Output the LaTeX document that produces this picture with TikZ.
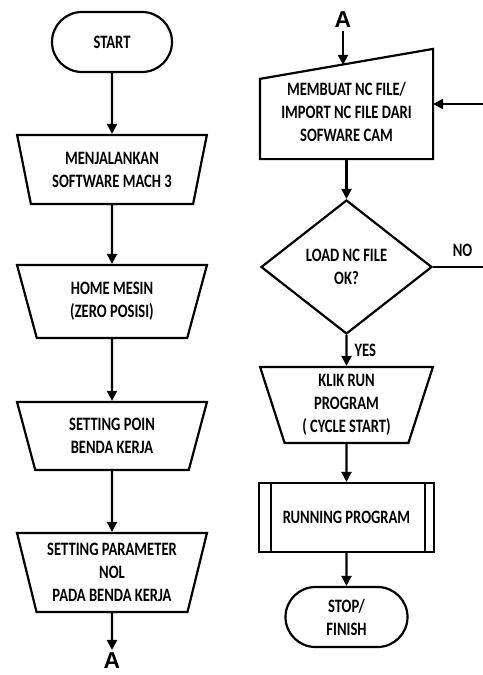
\documentclass[tikz,border=0pt]{standalone}
\usepackage{fontspec}
\setmainfont{Carlito}[FakeStretch=0.77]
\newfontfamily\connfont{Liberation Sans}
\usetikzlibrary{shapes.geometric,shapes.misc,arrows.meta}

\begin{document}
\begin{tikzpicture}[x=1bp,y=-1bp,
  base/.style={draw, line width=2.2bp, align=center, inner sep=0pt,
    font=\fontsize{19}{23}\selectfont\bfseries},
  terminal/.style={base, rounded rectangle, minimum width=120bp, minimum height=60bp},
  io/.style={base, trapezium, trapezium stretches=true, shape border rotate=180,
    trapezium left angle=74, trapezium right angle=74},
  decision/.style={base, diamond, minimum width=171bp, minimum height=134bp},
  process/.style={base, rectangle, minimum width=175bp, minimum height=69bp},
  conn/.style={inner sep=3bp, font=\connfont\fontsize{23}{26}\selectfont\bfseries},
  note/.style={inner sep=2bp, font=\fontsize{19}{23}\selectfont\bfseries},
  flow/.style={line width=2.2bp, -{Triangle[length=10bp,width=10bp]}}]
\useasboundingbox (0,0) rectangle (483,675);

% left column
\node[terminal] (start) at (112,42) {START};
\node[io, minimum width=190bp, minimum height=69bp] (mach) at (112,169.5) {MENJALANKAN\\SOFTWARE MACH 3};
\node[io, minimum width=190bp, minimum height=73bp] (home) at (112,301.5) {HOME MESIN\\(ZERO POSISI)};
\node[io, minimum width=190bp, minimum height=68bp] (poin) at (112,436) {SETTING POIN\\BENDA KERJA};
\node[io, minimum width=190bp, minimum height=79bp] (param) at (112,572.5) {SETTING PARAMETER\\NOL\\PADA BENDA KERJA};
\node[conn] (outA) at (112,661) {A};

% right column
\node[conn] (inA) at (343,20) {A};
\node[base, draw=none, minimum width=171bp, minimum height=92bp] (ncfile) at (346.5,112) {MEMBUAT NC FILE/\\IMPORT NC FILE DARI\\SOFWARE CAM};
\draw[line width=2.2bp] (ncfile.south west) -- (ncfile.south east)
  -- ([yshift=16bp]ncfile.north east) -- ([yshift=-14bp]ncfile.north west) -- cycle;
\node[decision] (load) at (346.5,267) {LOAD NC FILE\\OK?};
\node[io, minimum width=173bp, minimum height=76bp] (klik) at (346.5,405) {KLIK RUN\\PROGRAM\\( CYCLE START)};
\node[process] (run) at (346.5,517.5) {RUNNING PROGRAM};
\draw[line width=2.2bp]
  ([xshift=13bp]run.north west) -- ([xshift=13bp]run.south west)
  ([xshift=-10bp]run.north east) -- ([xshift=-10bp]run.south east);
\node[terminal, minimum width=122bp] (stop) at (346.5,617) {STOP/\\FINISH};
\coordinate (back) at (492,267);

\path[flow]
(start) edge (mach)
(mach) edge (home)
(home) edge (poin)
(poin) edge (param)
(param) edge (outA)

(ncfile) edge (load)
(load) edge node[note, right=5bp] {YES} (klik)
(klik) edge (run)
(run) edge (stop)
; %end path

\draw[flow] (inA) -- (inA |- ncfile.north);
\draw[flow] (load.east) -- node[note, above=7bp] {NO} (back) |- ([yshift=8bp]ncfile.east);
\end{tikzpicture}
\end{document}
